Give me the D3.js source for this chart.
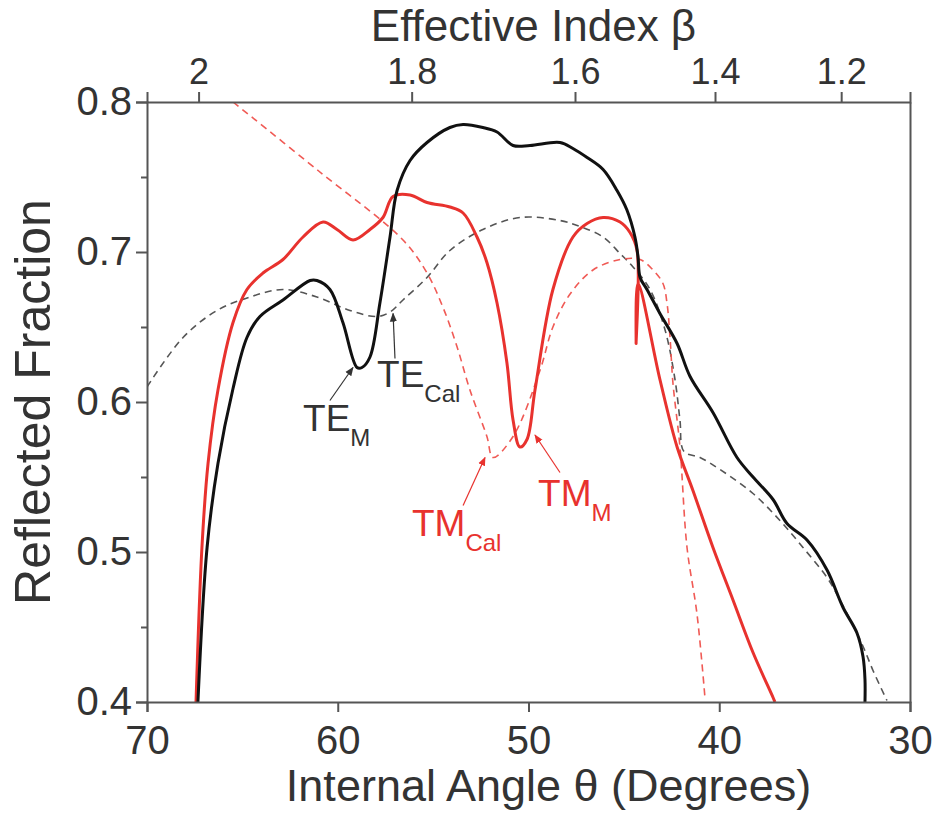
<!DOCTYPE html>
<html>
<head>
<meta charset="utf-8">
<script src="https://cdn.jsdelivr.net/npm/d3@7"></script>
<style>
  body { margin: 0; background: #fff; }
  svg text { font-family: "Liberation Sans", Arial, sans-serif; fill: #333; }
</style>
</head>
<body>
<script>
var width = 935;
var height = 816;
var margin = {top: 102, right: 25, bottom: 114, left: 147};

// 測定 TE (θ, R)
var teMeasured = [
  [67.33,0.400],[66.85,0.503],[66.28,0.559],[65.49,0.609],[64.76,0.643],[64.08,0.657],
  [62.87,0.668],[61.45,0.681],[61.09,0.681],[60.41,0.675],[59.73,0.653],[58.99,0.623],
  [58.73,0.623],[58.31,0.630],[57.79,0.666],[57.26,0.710],[56.89,0.741],[56.21,0.761],
  [55.32,0.773],[54.12,0.783],[53.43,0.785],[52.39,0.783],[51.65,0.780],[50.81,0.771],
  [49.92,0.771],[48.35,0.773],[47.67,0.769],[46.93,0.763],[46.09,0.755],[45.36,0.741],
  [44.84,0.728],[44.42,0.710],[44.26,0.697],[44.15,0.683],[43.79,0.675],[43.11,0.659],
  [42.21,0.639],[41.53,0.617],[40.33,0.593],[39.07,0.563],[38.23,0.550],[37.18,0.535],
  [36.45,0.519],[35.40,0.508],[34.35,0.488],[33.51,0.463],[32.78,0.446],[32.46,0.430],
  [32.36,0.415],[32.36,0.400]
];
// 測定 TM
var tmMeasured = [
  [67.43,0.400],[67.12,0.503],[66.80,0.559],[66.28,0.608],[65.49,0.653],[64.76,0.675],
  [63.92,0.686],[62.87,0.695],[61.82,0.710],[60.77,0.720],[60.04,0.715],[59.20,0.708],
  [58.31,0.715],[57.63,0.723],[57.10,0.737],[56.21,0.738],[55.32,0.733],[54.12,0.730],
  [53.43,0.726],[52.70,0.710],[52.18,0.693],[51.65,0.666],[51.13,0.626],[50.81,0.588],
  [50.45,0.570],[50.08,0.575],[49.66,0.608],[48.72,0.675],[47.67,0.710],[46.93,0.719],
  [46.09,0.723],[45.20,0.720],[44.68,0.713],[44.31,0.701],[44.36,0.639],[44.26,0.679],
  [43.11,0.615],[42.21,0.570],[41.38,0.541],[40.33,0.503],[39.28,0.468],[38.23,0.433],
  [37.18,0.403],[37.08,0.400]
];
// 計算 TM
var tmCalc = [
  [65.49,0.800],[61.00,0.754],[56.58,0.708],[55.32,0.686],
  [54.48,0.663],[53.75,0.637],[53.07,0.608],[52.18,0.577],[51.86,0.563],[50.81,0.577],
  [49.40,0.621],[48.72,0.650],[47.82,0.672],[46.62,0.688],[45.20,0.695],[44.15,0.695],
  [43.47,0.688],[42.95,0.679],[42.74,0.666],[42.58,0.643],[42.43,0.613],[42.06,0.570],
  [41.69,0.503],[41.17,0.459],[40.75,0.403]
];
// 計算 TE
var teCalc = [
  [70.00,0.610],[68.11,0.643],[66.33,0.661],[64.60,0.670],[62.87,0.675],[61.09,0.670],
  [59.36,0.661],[57.94,0.657],[57.26,0.660],[56.58,0.668],[55.32,0.683],[54.12,0.701],
  [52.39,0.715],[50.45,0.723],[48.35,0.721],[47.30,0.717],[46.09,0.710],[45.20,0.699],
  [44.52,0.690],[43.63,0.675],[42.84,0.648],[42.32,0.615],[42.06,0.588],[41.85,0.567],
  [41.01,0.563],[39.96,0.555],[38.23,0.539],[36.82,0.521],[35.61,0.503],[34.35,0.483],
  [33.67,0.468],[32.46,0.437],[31.94,0.421],[31.21,0.401]
];

// 軸の目盛り
var xTicks = [70, 60, 50, 40, 30];
var yTicks = [0.4, 0.5, 0.6, 0.7, 0.8];
var yMinorTicks = [0.45, 0.55, 0.65, 0.75];
var betaTicks = [2.0, 1.8, 1.6, 1.4, 1.2];
var betaLabels = ["2", "1.8", "1.6", "1.4", "1.2"];
var nEff = 2.168; // β = n sinθ

// 注記
var notes = [
  {main: "TE", sub: "M",   color: "#333",    at: [61.82, 0.581], from: [60.41, 0.601], to: [59.20, 0.623]},
  {main: "TE", sub: "Cal", color: "#333",    at: [57.94, 0.610], from: [57.00, 0.629], to: [57.10, 0.659]},
  {main: "TM", sub: "Cal", color: "#e8322e", at: [56.11, 0.511], from: [53.43, 0.531], to: [52.28, 0.563]},
  {main: "TM", sub: "M",   color: "#e8322e", at: [49.50, 0.531], from: [48.35, 0.553], to: [49.66, 0.578]}
];

var svg = d3.select("body").append("svg")
  .attr("width", width)
  .attr("height", height);

var x = d3.scaleLinear().domain([70, 30]).range([margin.left, width - margin.right]);
var y = d3.scaleLinear().domain([0.4, 0.8]).range([height - margin.bottom, margin.top]);

var defs = svg.append("defs");
["#333", "#e8322e"].forEach(function (c, i) {
  defs.append("marker")
    .attr("id", "arrow" + i)
    .attr("viewBox", "0 0 10 10")
    .attr("refX", 9).attr("refY", 5)
    .attr("markerWidth", 9).attr("markerHeight", 9)
    .attr("markerUnits", "userSpaceOnUse")
    .attr("orient", "auto")
    .append("path")
    .attr("d", "M0,1 L10,5 L0,9 Z")
    .attr("fill", c);
});

defs.append("clipPath").attr("id", "plot")
  .append("rect")
  .attr("x", margin.left).attr("y", margin.top)
  .attr("width", width - margin.left - margin.right)
  .attr("height", height - margin.top - margin.bottom);

var line = d3.line()
  .curve(d3.curveCatmullRom.alpha(0.5))
  .x(function (d) { return x(d[0]); })
  .y(function (d) { return y(d[1]); });

var plot = svg.append("g").attr("clip-path", "url(#plot)");

plot.append("path").datum(teCalc)
  .attr("fill", "none").attr("stroke", "#555").attr("stroke-width", 1.6)
  .attr("stroke-dasharray", "7,5").attr("d", line);
plot.append("path").datum(tmCalc)
  .attr("fill", "none").attr("stroke", "#f05a55").attr("stroke-width", 1.6)
  .attr("stroke-dasharray", "7,5").attr("d", line);
plot.append("path").datum(tmMeasured)
  .attr("fill", "none").attr("stroke", "#e8322e").attr("stroke-width", 3)
  .attr("stroke-linejoin", "round").attr("d", line);
plot.append("path").datum(teMeasured)
  .attr("fill", "none").attr("stroke", "#111").attr("stroke-width", 3)
  .attr("stroke-linejoin", "round").attr("d", line);

// 軸
function styleAxis(size) {
  return function (g) {
    g.selectAll(".domain").attr("stroke", "#555").attr("stroke-width", 2);
    g.selectAll(".tick line").attr("stroke", "#555").attr("stroke-width", 2);
    g.selectAll(".tick text").attr("font-size", size).attr("fill", "#333")
      .style("font-family", "Liberation Sans, Arial, sans-serif");
  };
}

svg.append("g")
  .attr("transform", "translate(0," + y(0.4) + ")")
  .call(d3.axisBottom(x).tickValues(xTicks).tickSize(10).tickPadding(14).tickFormat(d3.format("d")))
  .call(styleAxis(40));

svg.append("g")
  .attr("transform", "translate(0," + y(0.8) + ")")
  .call(d3.axisTop(x)
    .tickValues(betaTicks.map(function (b) { return Math.asin(b / nEff) * 180 / Math.PI; }))
    .tickFormat(function (d, i) { return betaLabels[i]; })
    .tickSize(10).tickPadding(8))
  .call(styleAxis(36));

svg.append("g")
  .attr("transform", "translate(" + x(70) + ",0)")
  .call(d3.axisLeft(y).tickValues(yTicks).tickSize(11).tickPadding(4).tickFormat(d3.format(".1f")))
  .call(styleAxis(40));

svg.append("g")
  .attr("transform", "translate(" + x(70) + ",0)")
  .call(d3.axisLeft(y).tickValues(yMinorTicks).tickSize(6).tickFormat(""))
  .call(styleAxis(40))
  .select(".domain").remove();

svg.append("g")
  .attr("transform", "translate(" + x(30) + ",0)")
  .call(d3.axisRight(y).tickValues([]).tickSizeOuter(0))
  .call(styleAxis(40));

// 軸ラベル
svg.append("text")
  .attr("x", (x(70) + x(30)) / 2 + 20).attr("y", 801)
  .attr("text-anchor", "middle").attr("font-size", 45)
  .text("Internal Angle θ (Degrees)");

svg.append("text")
  .attr("x", (x(70) + x(30)) / 2 + 5).attr("y", 41)
  .attr("text-anchor", "middle").attr("font-size", 44)
  .text("Effective Index β");

svg.append("text")
  .attr("transform", "translate(50," + (y(0.6)) + ") rotate(-90)")
  .attr("text-anchor", "middle").attr("font-size", 50)
  .text("Reflected Fraction");

// 注記
notes.forEach(function (n) {
  var t = svg.append("text")
    .attr("x", x(n.at[0])).attr("y", y(n.at[1]))
    .attr("font-size", 37)
    .style("fill", n.color);
  t.append("tspan").text(n.main);
  t.append("tspan").attr("font-size", 24).attr("dy", 15).text(n.sub);

  svg.append("line")
    .attr("x1", x(n.from[0])).attr("y1", y(n.from[1]))
    .attr("x2", x(n.to[0])).attr("y2", y(n.to[1]))
    .attr("stroke", n.color).attr("stroke-width", 1.2)
    .attr("marker-end", "url(#arrow" + (n.color === "#333" ? 0 : 1) + ")");
});
</script>
</body>
</html>
